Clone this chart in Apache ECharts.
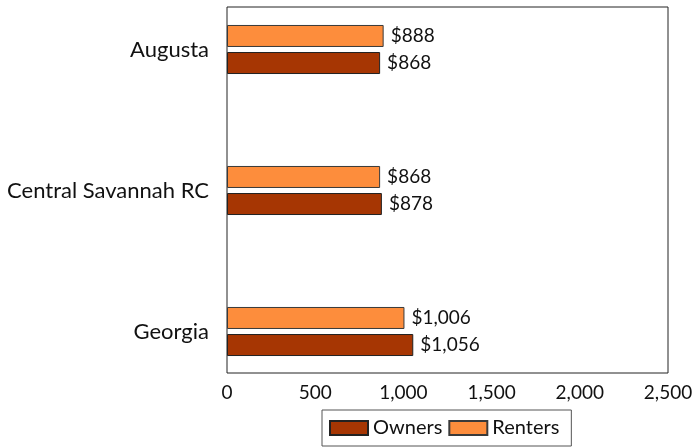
<!DOCTYPE html>
<html>
<head>
<meta charset="utf-8">
<script src="https://cdn.jsdelivr.net/npm/echarts@6/dist/echarts.min.js"></script>
<style>
	html, body { margin: 0; padding: 0; background: #fff; }
	#chart { width: 696px; height: 448px; }
</style>
</head>
<body>
<div id="chart"></div>
<script>
var cities = ['Augusta', 'Central Savannah RC', 'Georgia'];
var owners = [868, 878, 1056];
var renters = [888, 868, 1006];
var xTicks = [0, 500, 1000, 1500, 2000, 2500];

var fontName = 'Lato';

function money(v) {
	return '$' + v.toLocaleString('en-US');
}

var chart = echarts.init(document.getElementById('chart'), null, { renderer: 'canvas' });

chart.setOption({
	animation: false,
	textStyle: { fontFamily: fontName },
	grid: [
		// outer frame with the value axis
		{ left: 227, right: 28, top: 7, bottom: 75, show: true, borderColor: '#222', borderWidth: 1, containLabel: false },
		// bar area, categories sit on its top and bottom edges
		{ left: 227, right: 28, top: 49.5, bottom: 116.5, containLabel: false }
	],
	legend: {
		data: ['Owners', 'Renters'],
		left: 322,
		top: 410,
		orient: 'horizontal',
		icon: 'rect',
		itemWidth: 38,
		itemHeight: 14,
		itemGap: 6,
		padding: [8, 12, 8, 7],
		borderColor: '#555',
		borderWidth: 1,
		textStyle: { fontFamily: fontName, fontSize: 20, color: '#111' }
	},
	xAxis: [{
		gridIndex: 0,
		type: 'value',
		min: xTicks[0],
		max: xTicks[xTicks.length - 1],
		interval: xTicks[1] - xTicks[0],
		axisLine: { show: false },
		axisTick: { show: false },
		splitLine: { show: false },
		axisLabel: {
			margin: 10,
			fontSize: 19,
			color: '#111',
			formatter: function (v) { return v.toLocaleString('en-US'); }
		}
	}, {
		gridIndex: 1,
		type: 'value',
		min: xTicks[0],
		max: xTicks[xTicks.length - 1],
		show: false
	}],
	yAxis: [{
		gridIndex: 0,
		type: 'value',
		min: 0,
		max: 1,
		show: false
	}, {
		gridIndex: 1,
		type: 'category',
		data: cities,
		inverse: true,
		boundaryGap: false,
		axisLine: { show: false },
		axisTick: { show: false },
		splitLine: { show: false },
		axisLabel: { margin: 18, fontSize: 22, color: '#111' }
	}],
	series: [{
		name: 'Renters',
		type: 'bar',
		xAxisIndex: 1,
		yAxisIndex: 1,
		data: renters,
		barWidth: 22,
		barGap: '23%',
		itemStyle: { color: '#FD8D3C', borderColor: '#3a3a3a', borderWidth: 1 },
		label: {
			show: true,
			position: 'right',
			distance: 7,
			fontSize: 19,
			color: '#111',
			formatter: function (p) { return money(p.value); }
		}
	}, {
		name: 'Owners',
		type: 'bar',
		xAxisIndex: 1,
		yAxisIndex: 1,
		data: owners,
		barWidth: 22,
		barGap: '23%',
		itemStyle: { color: '#A63603', borderColor: '#222', borderWidth: 1 },
		label: {
			show: true,
			position: 'right',
			distance: 7,
			fontSize: 19,
			color: '#111',
			formatter: function (p) { return money(p.value); }
		}
	}]
});
</script>
</body>
</html>
